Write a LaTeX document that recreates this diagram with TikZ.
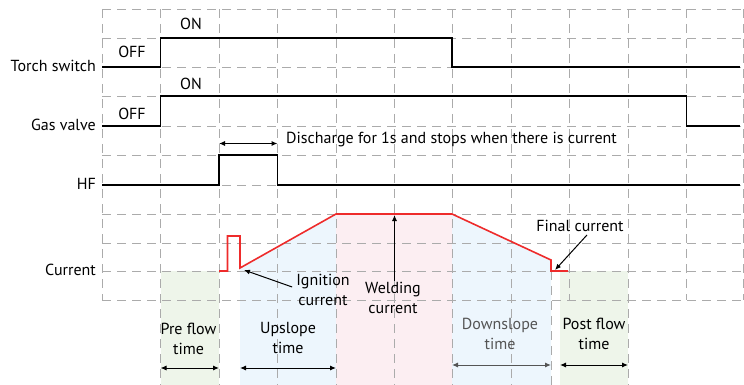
\documentclass[tikz,border=0pt]{standalone}
\usepackage{fontspec}
\setmainfont{PT Sans}
\usetikzlibrary{arrows.meta,positioning}

\definecolor{flowgreen}{HTML}{EEF5EA}
\definecolor{slopeblue}{HTML}{EDF6FD}
\definecolor{weldpink}{HTML}{FCEEF2}
\definecolor{gridgray}{HTML}{ABABAB}
\definecolor{currentred}{HTML}{EE2B2B}
\definecolor{softtext}{HTML}{555555}

\tikzset{
  gridline/.style={gridgray, dash pattern=on 9pt off 6pt, line width=0.9pt},
  signal/.style={black, line width=1.6pt},
  currentline/.style={currentred, line width=1.6pt},
  spanarrow/.style={{Latex[length=6pt,width=5pt]}-{Latex[length=6pt,width=5pt]}, line width=1pt},
  callout/.style={-{Latex[length=6pt,width=5pt]}, line width=1pt},
  lbl/.style={font=\fontsize{16}{20}\selectfont, inner sep=1pt, align=center},
}

\begin{document}
\begin{tikzpicture}[x=1pt, y=-1pt]
    \useasboundingbox (0,0) rectangle (744,385);

    % Shaded phases
    \fill[flowgreen] (160.5,271) rectangle (219,385);
    \fill[slopeblue] (240,268) -- (336,214) -- (336,385) -- (240,385) -- cycle;
    \fill[weldpink] (336,214) rectangle (452,385);
    \fill[slopeblue] (452,214) -- (551,260) -- (551,385) -- (452,385) -- cycle;
    \fill[flowgreen] (560,271) rectangle (628,385);

    % Grid
    \foreach \y in {9,38,67,96,126,155,185,214,243,271,300} {
        \draw[gridline] (102,\y) -- (743,\y);
    }
    \foreach \x in {102,569.5,686.5,743} {
        \draw[gridline] (\x,9) -- (\x,300);
    }
    \foreach \x in {160.5,219,277.5,336,394.5,452,511,628} {
        \draw[gridline] (\x,9) -- (\x,385);
    }
    \draw[gridline] (551,271) -- (551,385);

    % Signals
    \draw[signal] (102,67) -- (160.5,67) -- (160.5,38) -- (452,38) -- (452,67) -- (740,67);
    \draw[signal] (102,126) -- (160.5,126) -- (160.5,96) -- (686.5,96) -- (686.5,126) -- (740,126);
    \draw[signal] (102,185) -- (219,185) -- (219,155) -- (277.5,155) -- (277.5,185) -- (740,185);
    \draw[currentline] (219,271) -- (227.5,271) -- (227.5,236) -- (240,236) -- (240,268)
        -- (336,214) -- (452,214) -- (551,260) -- (551,271) -- (568,271);

    % Row labels
    \node[lbl, anchor=east] (torch) at (97,66) {Torch switch};
    \node[lbl, anchor=east] (gas) at (97,125) {Gas valve};
    \node[lbl, anchor=east] (hf) at (97,184) {HF};
    \node[lbl, anchor=east] (cur) at (97,270) {Current};
    \node[lbl] (torchoff) at (132,52) {OFF};
    \node[lbl] (torchon) at (191,24) {ON};
    \node[lbl] (gasoff) at (132,114) {OFF};
    \node[lbl] (gason) at (191,84) {ON};

    % HF discharge
    \coordinate (hfl) at (219,143.5);
    \coordinate (hfr) at (277.5,143.5);
    \draw[spanarrow] (hfl) -- (hfr);
    \node[lbl, anchor=west] (discharge) at (285,139) {Discharge for 1s and stops when there is current};

    % Current callouts
    \node[lbl] (ignition) at (323,290) {Ignition\\current};
    \coordinate (ignpt) at (244,270);
    \draw[callout] (ignition.west) ++(-3,-3) -- (ignpt);
    \node[lbl] (welding) at (393,298) {Welding\\current};
    \coordinate (weldpt) at (394.5,215);
    \draw[callout] (welding.north -| weldpt) -- (weldpt);
    \node[lbl] (final) at (580,226) {Final current};
    \coordinate (finalpt) at (555,270);
    \draw[callout] (final.south) ++(7,2) -- (finalpt);

    % Phase times
    \node[lbl] (preflow) at (188.5,339) {Pre flow\\time};
    \node[lbl] (upslope) at (288,338) {Upslope\\time};
    \node[lbl, text=softtext] (downslope) at (500,334) {Downslope\\time};
    \node[lbl] (postflow) at (594,334) {Post flow\\time};
    \coordinate (prel) at (160.5,368);
    \coordinate (prer) at (219,368);
    \coordinate (upl) at (240,368);
    \coordinate (upr) at (336,368);
    \coordinate (downl) at (452,365);
    \coordinate (downr) at (551,365);
    \coordinate (postl) at (560,365);
    \coordinate (postr) at (628,365);
    \draw[spanarrow] (prel) -- (prer);
    \draw[spanarrow] (upl) -- (upr);
    \draw[spanarrow, softtext] (downl) -- (downr);
    \draw[spanarrow] (postl) -- (postr);
\end{tikzpicture}
\end{document}
